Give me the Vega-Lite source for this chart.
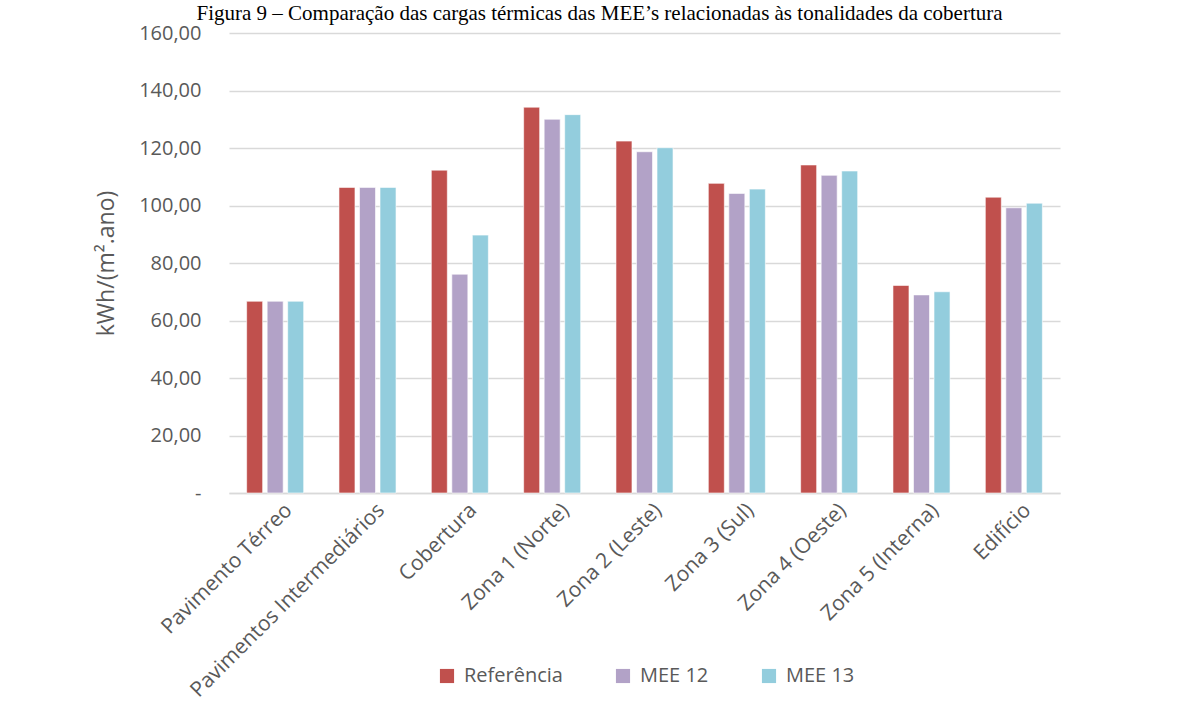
{
  "$schema": "https://vega.github.io/schema/vega-lite/v6.json",
  "width": 831,
  "height": 460,
  "autosize": {"type": "none"},
  "padding": {"left": 229, "top": 33, "right": 120, "bottom": 224},
  "background": "white",
  "title": {
    "text": "Figura 9 – Comparação das cargas térmicas das MEE’s relacionadas às tonalidades da cobertura",
    "font": "Liberation Serif",
    "fontSize": 21,
    "fontWeight": "normal",
    "color": "#000000",
    "anchor": "middle",
    "frame": "group",
    "baseline": "alphabetic",
    "offset": 2,
    "dy": 20,
    "dx": -45,
    "limit": 1170
  },
  "data": {
    "values": [
      {"zona": "Pavimento Térreo", "serie": "Referência", "valor": 66.7},
      {"zona": "Pavimento Térreo", "serie": "MEE 12", "valor": 66.7},
      {"zona": "Pavimento Térreo", "serie": "MEE 13", "valor": 66.7},
      {"zona": "Pavimentos Intermediários", "serie": "Referência", "valor": 106.3},
      {"zona": "Pavimentos Intermediários", "serie": "MEE 12", "valor": 106.3},
      {"zona": "Pavimentos Intermediários", "serie": "MEE 13", "valor": 106.3},
      {"zona": "Cobertura", "serie": "Referência", "valor": 112.3},
      {"zona": "Cobertura", "serie": "MEE 12", "valor": 76.1},
      {"zona": "Cobertura", "serie": "MEE 13", "valor": 89.7},
      {"zona": "Zona 1 (Norte)", "serie": "Referência", "valor": 134.2},
      {"zona": "Zona 1 (Norte)", "serie": "MEE 12", "valor": 130.0},
      {"zona": "Zona 1 (Norte)", "serie": "MEE 13", "valor": 131.6},
      {"zona": "Zona 2 (Leste)", "serie": "Referência", "valor": 122.4},
      {"zona": "Zona 2 (Leste)", "serie": "MEE 12", "valor": 118.7},
      {"zona": "Zona 2 (Leste)", "serie": "MEE 13", "valor": 120.1},
      {"zona": "Zona 3 (Sul)", "serie": "Referência", "valor": 107.7},
      {"zona": "Zona 3 (Sul)", "serie": "MEE 12", "valor": 104.2},
      {"zona": "Zona 3 (Sul)", "serie": "MEE 13", "valor": 105.7},
      {"zona": "Zona 4 (Oeste)", "serie": "Referência", "valor": 114.1},
      {"zona": "Zona 4 (Oeste)", "serie": "MEE 12", "valor": 110.5},
      {"zona": "Zona 4 (Oeste)", "serie": "MEE 13", "valor": 112.0},
      {"zona": "Zona 5 (Interna)", "serie": "Referência", "valor": 72.2},
      {"zona": "Zona 5 (Interna)", "serie": "MEE 12", "valor": 68.9},
      {"zona": "Zona 5 (Interna)", "serie": "MEE 13", "valor": 70.0},
      {"zona": "Edifício", "serie": "Referência", "valor": 102.9},
      {"zona": "Edifício", "serie": "MEE 12", "valor": 99.2},
      {"zona": "Edifício", "serie": "MEE 13", "valor": 100.8}
    ]
  },
  "mark": {"type": "bar", "stroke": "white", "strokeWidth": 0.6},
  "encoding": {
    "x": {
      "field": "zona",
      "type": "nominal",
      "sort": null,
      "scale": {"paddingInner": 0, "paddingOuter": 0},
      "axis": {
        "title": null,
        "labelAngle": -45,
        "labelAlign": "right",
        "labelBaseline": "top",
        "labelPadding": 6,
        "labelOffset": 6,
        "labelFont": "Open Sans",
        "labelFontSize": 21,
        "labelColor": "#595959",
        "labelLimit": 400,
        "ticks": false,
        "domain": true,
        "domainColor": "#d9d9d9",
        "domainWidth": 1.5
      }
    },
    "xOffset": {
      "field": "serie",
      "type": "nominal",
      "sort": ["Referência", "MEE 12", "MEE 13"],
      "scale": {"paddingInner": 0.22, "paddingOuter": 0.86}
    },
    "y": {
      "field": "valor",
      "type": "quantitative",
      "scale": {"domain": [0, 160], "nice": false},
      "axis": {
        "title": "kWh/(m².ano)",
        "titleFont": "Open Sans",
        "titleFontSize": 23,
        "titleFontWeight": "normal",
        "titleColor": "#595959",
        "titlePadding": 20,
        "values": [0, 20, 40, 60, 80, 100, 120, 140, 160],
        "labelExpr": "datum.value == 0 ? '-' : replace(format(datum.value, '.2f'), '.', ',')",
        "labelFont": "Open Sans",
        "labelFontSize": 20,
        "labelColor": "#595959",
        "labelPadding": 28,
        "ticks": false,
        "domain": false,
        "grid": true,
        "gridColor": "#d9d9d9",
        "gridWidth": 1.5
      }
    },
    "color": {
      "field": "serie",
      "type": "nominal",
      "sort": ["Referência", "MEE 12", "MEE 13"],
      "scale": {
        "domain": ["Referência", "MEE 12", "MEE 13"],
        "range": ["#C0504D", "#B2A2C7", "#93CDDD"]
      },
      "legend": {
        "title": null,
        "orient": "none",
        "direction": "horizontal",
        "legendX": 208,
        "legendY": 633,
        "symbolType": "square",
        "symbolSize": 200,
        "symbolStrokeWidth": 0,
        "labelFont": "Open Sans",
        "labelFontSize": 20,
        "labelColor": "#595959",
        "labelOffset": 7,
        "columnPadding": 50
      }
    }
  },
  "config": {"view": {"stroke": null}}
}
